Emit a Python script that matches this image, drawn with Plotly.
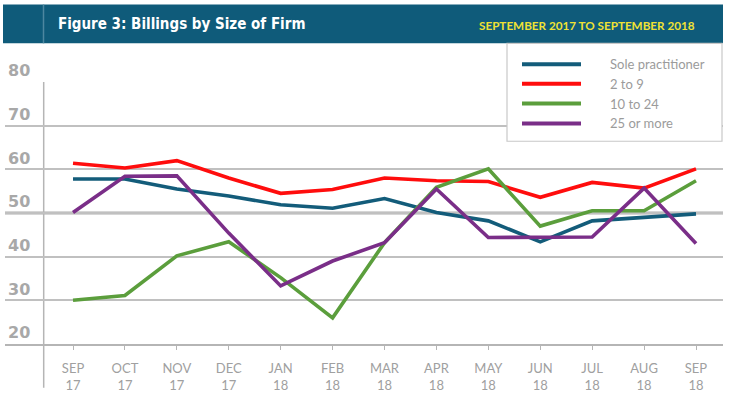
import plotly.graph_objects as go

months = ["SEP<br>17", "OCT<br>17", "NOV<br>17", "DEC<br>17", "JAN<br>18", "FEB<br>18", "MAR<br>18",
          "APR<br>18", "MAY<br>18", "JUN<br>18", "JUL<br>18", "AUG<br>18", "SEP<br>18"]

series_names = ["Sole practitioner", "2 to 9", "10 to 24", "25 or more"]
sole_practitioner = [57.8, 57.8, 55.5, 53.9, 51.9, 51.1, 53.3, 50.1, 48.2, 43.4, 48.2, 49.1, 49.8]
two_to_nine = [61.4, 60.3, 62.0, 58.0, 54.5, 55.4, 58.0, 57.4, 57.2, 53.6, 57.0, 55.7, 60.1]
ten_to_24 = [30.0, 31.1, 40.2, 43.4, 35.2, 26.0, 43.2, 55.9, 60.1, 47.0, 50.5, 50.5, 57.4]
twenty_five_plus = [50.1, 58.4, 58.5, 45.4, 33.3, 39.0, 43.2, 55.5, 44.4, 44.4, 44.5, 55.7, 43.0]
series_values = [sole_practitioner, two_to_nine, ten_to_24, twenty_five_plus]
series_colors = ["#135c7a", "#ff0d0d", "#5b9e3c", "#7a2e88"]

y_ticks = [20, 30, 40, 50, 60, 70, 80]

W, H = 730, 398
L, R, T, B = 5, 723, 82, 346


def px(x):
    return (x - L) / (R - L)


def py(y):
    return (B - y) / (B - T)


fig = go.Figure()
for name, vals, col in zip(series_names, series_values, series_colors):
    fig.add_trace(go.Scatter(x=months, y=vals, name=name, mode="lines",
                             line=dict(color=col, width=3.6), showlegend=False))

shapes = []
# header band
shapes.append(dict(type="rect", xref="paper", yref="paper", x0=px(3), x1=px(723), y0=py(43), y1=py(4),
                   fillcolor="#0f5b7a", line=dict(width=0), layer="above"))
shapes.append(dict(type="line", xref="paper", yref="paper", x0=px(43.5), x1=px(43.5), y0=py(43), y1=py(4),
                   line=dict(color="#4d87a0", width=1.5), layer="above"))
# thick 50 line
shapes.append(dict(type="line", xref="paper", yref="y", x0=0, x1=1, y0=50, y1=50,
                   line=dict(color="#adadad", width=3), layer="below"))
# vertical axis line
shapes.append(dict(type="line", xref="paper", yref="paper", x0=px(43.7), x1=px(43.7), y0=py(390), y1=1,
                   line=dict(color="#b5b5b5", width=1.5), layer="below"))
# legend box
shapes.append(dict(type="rect", xref="paper", yref="paper", x0=px(507), x1=px(722), y0=py(141.7), y1=py(43),
                   fillcolor="white", line=dict(color="#c8c8c8", width=1.2), layer="above"))

annotations = [
    dict(text="Figure 3: Billings by Size of Firm", xref="paper", yref="paper", x=px(56), y=py(24),
         xanchor="left", yanchor="middle", showarrow=False,
         font=dict(family="Liberation Sans Narrow, DejaVu Sans Condensed, Roboto Condensed, Roboto",
                   size=15, color="white", weight="bold")),
    dict(text="SEPTEMBER 2017 TO SEPTEMBER 2018", xref="paper", yref="paper", x=px(697), y=py(25),
         xanchor="right", yanchor="middle", showarrow=False,
         font=dict(family="Lato", size=11.7, color="#f0e234", weight="bold")),
]

legend_y = [64, 83.7, 103.7, 123.7]
for name, col, ly in zip(series_names, series_colors, legend_y):
    shapes.append(dict(type="line", xref="paper", yref="paper", x0=px(522), x1=px(581), y0=py(ly), y1=py(ly),
                       line=dict(color=col, width=4), layer="above"))
    annotations.append(dict(text=name, xref="paper", yref="paper", x=px(608), y=py(ly),
                            xanchor="left", yanchor="middle", showarrow=False,
                            font=dict(family="Lato", size=13, color="#9b9b9b")))

fig.update_layout(
    width=W, height=H,
    margin=dict(l=L, r=W - R, t=T, b=H - B),
    paper_bgcolor="white", plot_bgcolor="white",
    shapes=shapes, annotations=annotations,
    showlegend=False,
    xaxis=dict(type="category", range=[-1.31, 12.52], showgrid=False, showline=True,
               linecolor="#b5b5b5", linewidth=1.5, ticks="outside", ticklen=4, tickcolor="#b5b5b5",
               tickwidth=1, ticklabelstandoff=8,
               tickfont=dict(family="Lato", size=13, color="#a0a0a0"), zeroline=False),
    yaxis=dict(range=[20, 80], tickvals=y_ticks, showgrid=True, gridcolor="#c0c0c0", gridwidth=1.5,
               zeroline=False, showline=False, ticklabelposition="inside top", ticklabeloverflow="allow",
               ticklabelstandoff=0,
               tickfont=dict(family="DejaVu Sans", size=16, color="#a8a8a8", weight="bold")),
)

fig.write_html("out.html", config={"displayModeBar": False},
               post_script="document.body.style.margin='0';document.body.style.overflow='hidden';")
